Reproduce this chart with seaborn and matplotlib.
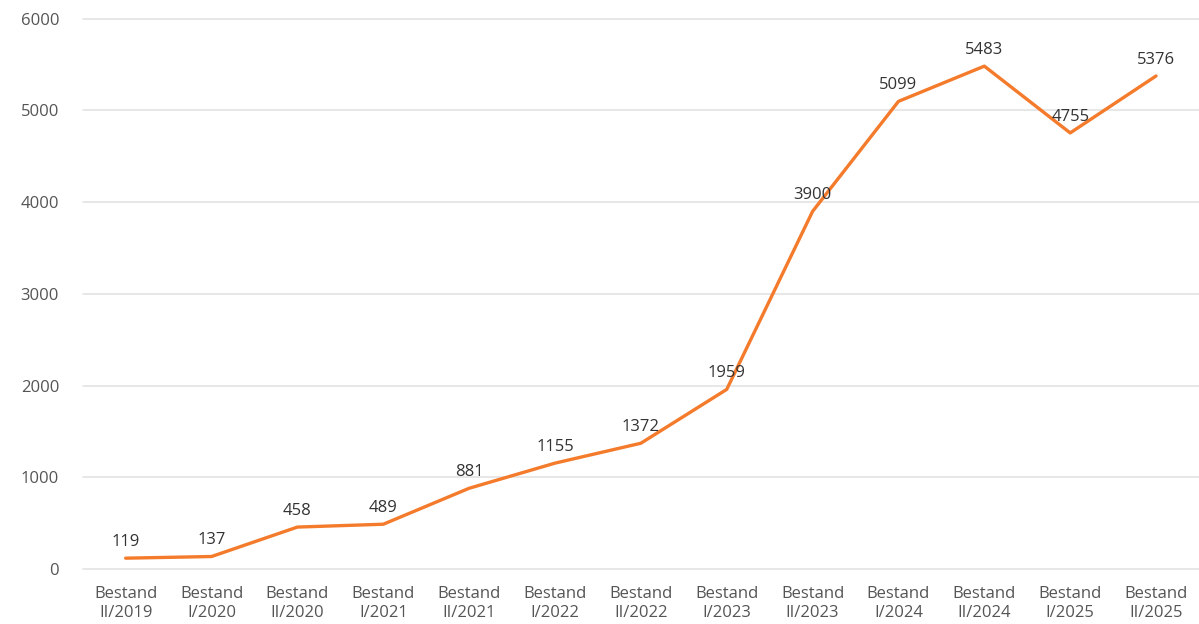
import matplotlib
matplotlib.use("Agg")
import matplotlib.pyplot as plt
import seaborn as sns
import pandas as pd

categories = ["Bestand\nII/2019", "Bestand\nI/2020", "Bestand\nII/2020", "Bestand\nI/2021",
              "Bestand\nII/2021", "Bestand\nI/2022", "Bestand\nII/2022", "Bestand\nI/2023",
              "Bestand\nII/2023", "Bestand\nI/2024", "Bestand\nII/2024", "Bestand\nI/2025",
              "Bestand\nII/2025"]
values = [119, 137, 458, 489, 881, 1155, 1372, 1959, 3900, 5099, 5483, 4755, 5376]
yticks = [0, 1000, 2000, 3000, 4000, 5000, 6000]

sns.set_theme(style="white")
plt.rcParams['font.family'] = ['Open Sans', 'DejaVu Sans']

df = pd.DataFrame({"cat": categories, "val": values, "x": range(len(values))})

fig = plt.figure(figsize=(11.99, 6.24), dpi=100)
ax = fig.add_axes([0.069, 0.088, 0.931, 0.882])
sns.lineplot(data=df, x="x", y="val", ax=ax, color="#F47B2B", linewidth=2.4)

for xi, v in zip(df["x"], df["val"]):
    ax.annotate(f"{v}", (xi, v), xytext=(0, 6), textcoords="offset points",
                ha="center", va="bottom", fontsize=12, color="#333333")

ax.set_xlim(-0.5, len(values) - 0.5)
ax.set_ylim(0, 6000)
ax.set_yticks(yticks)
ax.set_yticklabels([str(t) for t in yticks])
ax.set_xticks(list(df["x"]))
ax.set_xticklabels(categories, linespacing=1.3)
ax.tick_params(axis="both", labelsize=12, colors="#555555", length=0)
ax.tick_params(axis="y", pad=17)
ax.tick_params(axis="x", pad=12)
ax.grid(axis="y", color="#E3E3E3", linewidth=1.2)
for gl in ax.get_ygridlines():
    gl.set_clip_on(False)
for s in ax.spines.values():
    s.set_visible(False)
ax.set_xlabel("")
ax.set_ylabel("")

fig.savefig("out.png", dpi=100)
